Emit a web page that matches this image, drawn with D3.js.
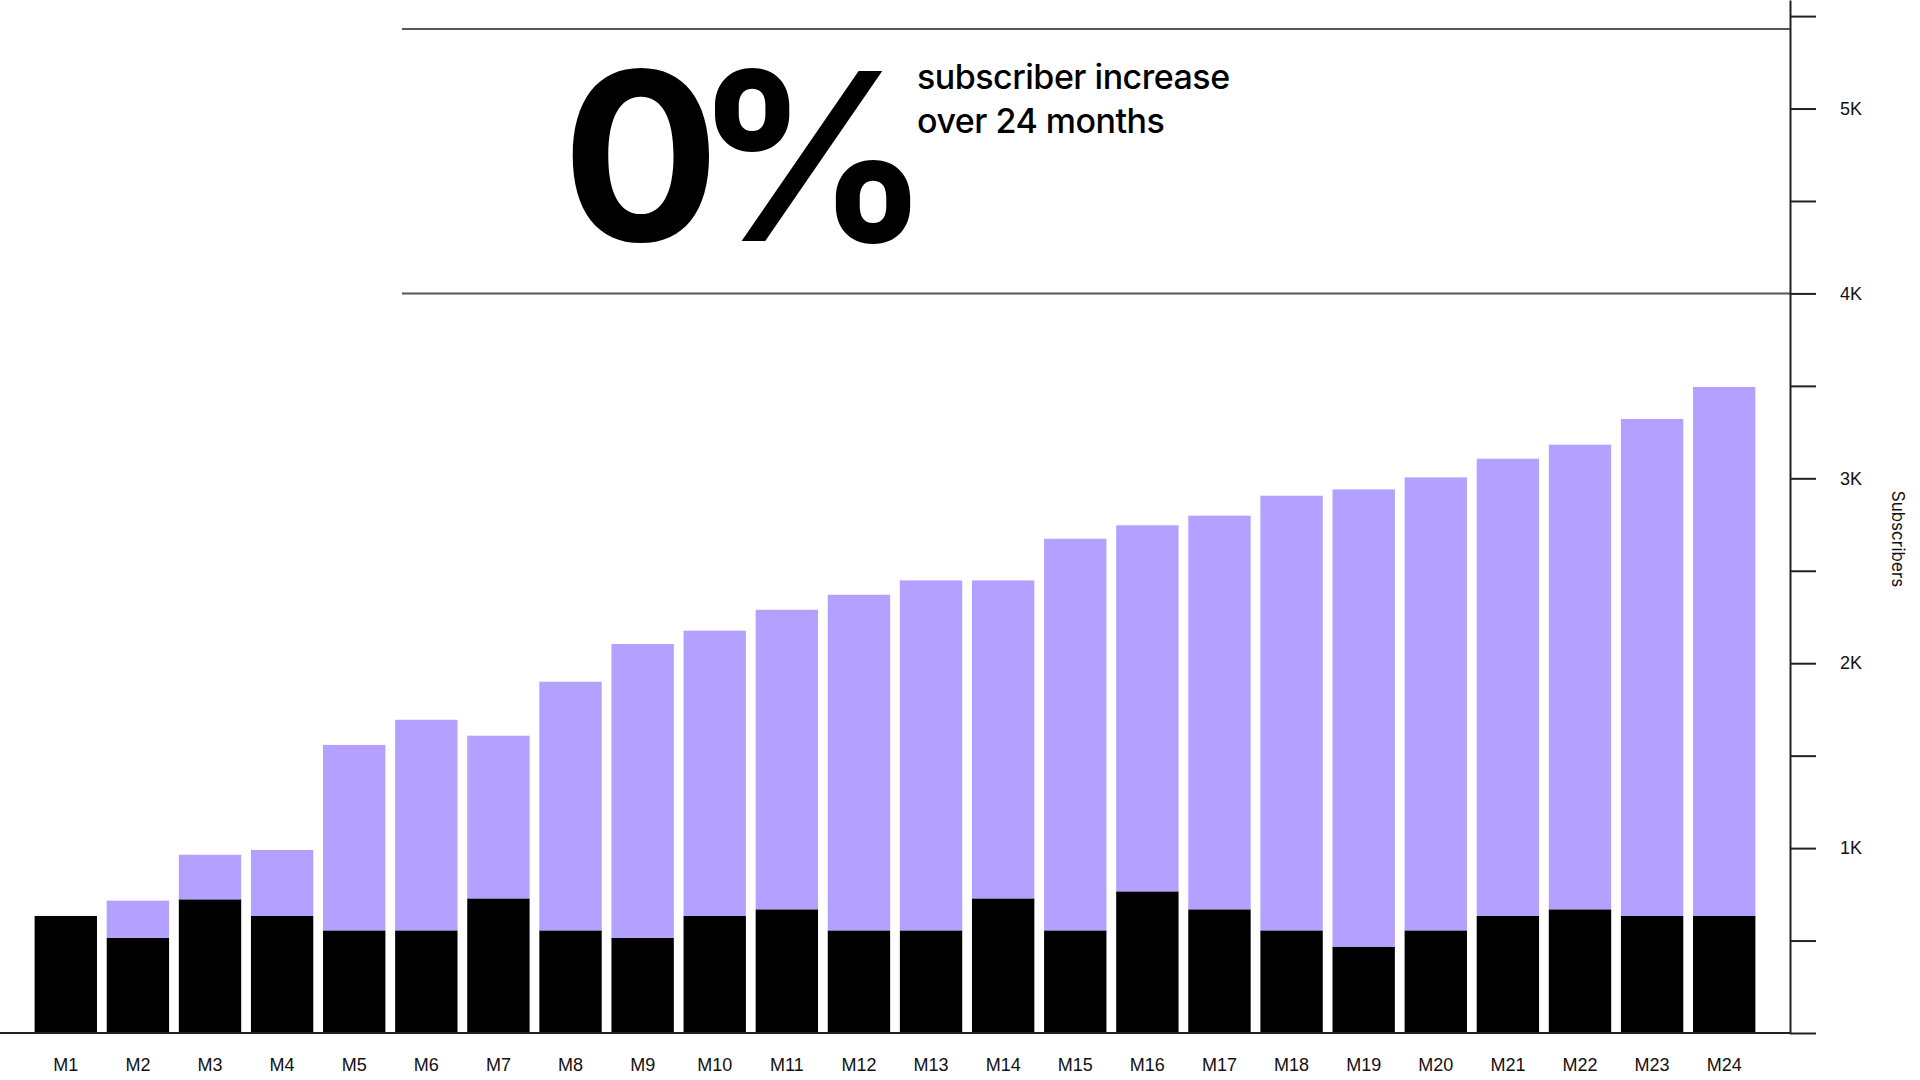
<!DOCTYPE html>
<html>
<head>
<meta charset="utf-8">
<script src="https://cdn.jsdelivr.net/npm/d3@7"></script>
<style>
    body { margin: 0; background: #fff; }
    svg { display: block; font-family: Inter, 'Noto Sans', sans-serif; }
    .tick text { font-size: 18px; fill: #111; }
</style>
</head>
<body>
<div class="visHolder"></div>
<script>
const months = d3.range(1, 25).map(i => `M${i}`)
// black part of each bar
const retained = [633, 515, 723, 633, 555, 555, 728, 555, 515, 633, 669, 555,
    555, 728, 555, 766, 669, 555, 467, 555, 633, 669, 633, 633]
// purple part stacked on top
const added = [0, 201, 241, 357, 1003, 1139, 880, 1345, 1589, 1543, 1620, 1815,
    1893, 1720, 2118, 1980, 2129, 2351, 2473, 2450, 2473, 2513, 2688, 2861]
const yTicks = d3.range(0, 5501, 500)
const headline = '0%'
const subline = ['subscriber increase', 'over 24 months']

const width = 1920
const height = 1080
const axisX = 1790
const baseY = 1033

const svg = d3.select('.visHolder')
    .append('svg')
    .attr('width', width)
    .attr('height', height)

const xScale = d3.scaleBand()
    .domain(months)
    .range([0, axisX])
    .paddingInner(0.135)
    .paddingOuter(0.48)

const yScale = d3.scaleLinear()
    .domain([0, 5587])
    .range([baseY, 0])

const rows = months.map((m, i) => ({ month: m, retained: retained[i], added: added[i] }))
const stacked = d3.stack().keys(['retained', 'added'])(rows)
const colors = { retained: '#000000', added: '#b4a0fe' }

svg.append('g')
    .selectAll('g')
    .data(stacked)
    .enter()
    .append('g')
    .attr('fill', d => colors[d.key])
    .selectAll('rect')
    .data(d => d)
    .enter()
    .append('rect')
    .attr('x', d => xScale(d.data.month))
    .attr('y', d => yScale(d[1]))
    .attr('width', xScale.bandwidth())
    .attr('height', d => Math.max(0, yScale(d[0]) - yScale(d[1])))

// annotation box lines
svg.append('line')
    .attr('x1', 402).attr('x2', axisX)
    .attr('y1', 29).attr('y2', 29)
    .attr('stroke', '#555').attr('stroke-width', 2)
svg.append('line')
    .attr('x1', 402).attr('x2', axisX)
    .attr('y1', yScale(4000)).attr('y2', yScale(4000))
    .attr('stroke', '#555').attr('stroke-width', 2)

// baseline
svg.append('line')
    .attr('x1', 0).attr('x2', axisX)
    .attr('y1', baseY).attr('y2', baseY)
    .attr('stroke', '#222').attr('stroke-width', 2)

const yAxis = d3.axisRight(yScale)
    .tickValues(yTicks)
    .tickSize(26)
    .tickPadding(24)
    .tickSizeOuter(0)
    .tickFormat(d => (d > 0 && d % 1000 === 0) ? `${d / 1000}K` : '')

const gy = svg.append('g')
    .attr('transform', `translate(${axisX}, 0)`)
    .call(yAxis)
gy.select('.domain').attr('stroke', '#222').attr('stroke-width', 2)
gy.selectAll('.tick line').attr('stroke', '#222').attr('stroke-width', 2)
gy.selectAll('.tick text').attr('text-anchor', 'start')

const xAxis = d3.axisBottom(xScale).tickSize(0).tickPadding(25)
const gx = svg.append('g')
    .attr('transform', `translate(0, ${baseY})`)
    .call(xAxis)
gx.select('.domain').remove()

svg.append('text')
    .attr('transform', 'translate(1892, 539) rotate(90)')
    .attr('text-anchor', 'middle')
    .style('font-size', '17px')
    .attr('fill', '#111')
    .text('Subscribers')

svg.append('text')
    .attr('x', 562)
    .attr('y', 241)
    .style('font-size', '234px')
    .style('font-weight', 700)
    .style('letter-spacing', '-26px')
    .attr('fill', '#000')
    .text(headline)

svg.append('g')
    .selectAll('text')
    .data(subline)
    .enter()
    .append('text')
    .attr('x', 917)
    .attr('y', (d, i) => 89 + i * 44)
    .style('font-size', '34px')
    .style('font-weight', 500)
    .style('letter-spacing', '-0.5px')
    .attr('fill', '#000')
    .text(d => d)
</script>
</body>
</html>
